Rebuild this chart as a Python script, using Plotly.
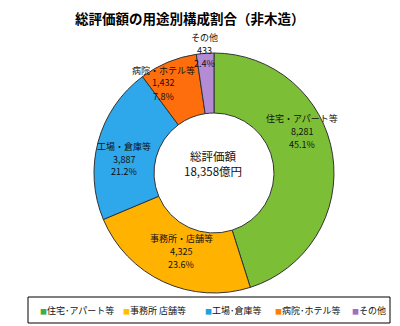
import plotly.graph_objects as go

# ---- data ----
categories = ["住宅・アパート等", "事務所・店舗等", "工場・倉庫等", "病院・ホテル等", "その他"]
values = [8281, 4325, 3887, 1432, 433]
legend_labels = ["住宅･アパート等", "事務所 店舗等", "工場･倉庫等", "病院･ホテル等", "その他"]
title_text = "総評価額の用途別構成割合（非木造）"
center_lines = ["総評価額", "18,358億円"]

# ---- styles / positions ----
slice_colors = ["#7cbf36", "#ffb300", "#2ea8ea", "#ff6e0c", "#b48cd6"]
legend_colors = ["#3cb043", "#ffc000", "#1fa0e0", "#ff7f00", "#a070c0"]
label_pos = [(302, 131), (181, 251), (124, 159), (163, 83), (205, 50)]  # pixel centers (middle line)
line_gap = 13
legend_x = [38, 121, 203, 273, 350]
W, H = 400, 326
FONT = "Noto Sans CJK JP, Noto Sans, sans-serif"

cx, cy, r = 214, 173, 120

fig = go.Figure(go.Pie(
    labels=categories,
    values=values,
    hole=0.5,
    sort=False,
    direction="clockwise",
    rotation=0,
    textinfo="none",
    hoverinfo="label+value+percent",
    marker=dict(colors=slice_colors, line=dict(color="#333333", width=1)),
    domain=dict(x=[(cx - r) / W, (cx + r) / W], y=[(H - cy - r) / H, (H - cy + r) / H]),
    showlegend=False,
))


def txt(px, py, s, size=9, anchor="center", color="#111111"):
    return dict(
        x=px / W, y=1 - py / H, xref="paper", yref="paper",
        xanchor=anchor, yanchor="middle", showarrow=False,
        text=s, font=dict(family=FONT, size=size, color=color),
    )


total = sum(values)
annotations = []
for name, v, (px, py) in zip(categories, values, label_pos):
    pct = v / total * 100
    lines = [name, f"{v:,}", f"{pct:.1f}%"]
    for i, s in enumerate(lines):
        annotations.append(txt(px, py + (i - 1) * line_gap, s, size=9))

# center text
for i, s in enumerate(center_lines):
    annotations.append(txt(cx - 1, 156 + i * 15, s, size=11.5))

# title
annotations.append(txt(190, 18, f"<b>{title_text}</b>", size=13.5, color="#000000"))

# custom legend
for lbl, col, lx in zip(legend_labels, legend_colors, legend_x):
    annotations.append(txt(lx, 310, f"<span style='color:{col};font-size:7px'>■</span>{lbl}",
                           size=9, anchor="left"))

fig.update_layout(
    width=W, height=H,
    margin=dict(l=0, r=0, t=0, b=0),
    paper_bgcolor="white", plot_bgcolor="white",
    annotations=annotations,
    shapes=[dict(type="rect", xref="paper", yref="paper",
                 x0=28 / W, x1=390 / W, y0=1 - 323 / H, y1=1 - 297 / H,
                 line=dict(color="#000000", width=1), fillcolor="rgba(0,0,0,0)")],
)

fig.write_html("out.html")
